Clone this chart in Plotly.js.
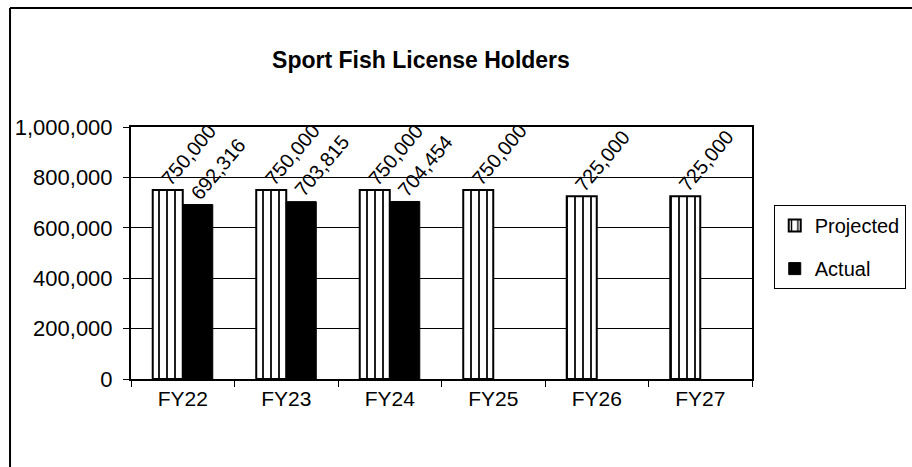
<!DOCTYPE html>
<html>
<head>
<meta charset="utf-8">
<script src="https://cdn.plot.ly/plotly-3.0.1.min.js"></script>
<style>
  html, body { margin: 0; padding: 0; background: #fff; }
  #chart { width: 912px; height: 467px; }
</style>
</head>
<body>
<div id="chart"></div>
<script>
// fiscal years and license holder counts
const years = ['FY22', 'FY23', 'FY24', 'FY25', 'FY26', 'FY27'];
const projected = [750000, 750000, 750000, 750000, 725000, 725000];
const actualYears = ['FY22', 'FY23', 'FY24'];
const actual = [692316, 703815, 704454];

const fmt = v => v.toLocaleString('en-US');
const font = 'Liberation Sans, Arial, sans-serif';

const traces = [
    {
        type: 'bar',
        name: 'Projected',
        legendgroup: 'p',
        x: years,
        y: projected,
        marker: {
            color: '#fff',
            line: { color: '#000', width: 2 },
            pattern: { shape: '|', size: 8, solidity: 0.22, fgcolor: '#000', bgcolor: '#fff' }
        },
        hoverinfo: 'x+y'
    },
    {
        type: 'bar',
        name: 'Actual',
        legendgroup: 'a',
        x: actualYears,
        y: actual,
        marker: { color: '#000', line: { color: '#000', width: 1 } },
        hoverinfo: 'x+y'
    }
];

// value labels, slanted, starting at the left edge of each bar
function labels(xs, ys, shift) {
    return xs.map((x, i) => ({
        x: x, y: ys[i], xref: 'x', yref: 'y',
        text: fmt(ys[i]),
        showarrow: false,
        textangle: -50,
        xanchor: 'left', yanchor: 'bottom',
        xshift: shift, yshift: -2,
        font: { family: font, size: 20, color: '#000' }
    }));
}

const layout = {
    width: 912,
    height: 467,
    margin: { l: 131, r: 160, t: 127, b: 88, autoexpand: false },
    paper_bgcolor: '#fff',
    plot_bgcolor: '#fff',
    font: { family: font, size: 21, color: '#000' },
    title: {
        text: 'Sport Fish License Holders',
        font: { family: font, size: 23, weight: 'bold', color: '#000' },
        xref: 'container', x: 0.4616, xanchor: 'center',
        yref: 'container', y: 0.871, yanchor: 'middle'
    },
    barmode: 'group',
    bargap: 0.42,
    bargroupgap: 0,
    xaxis: {
        type: 'category',
        showline: true, linecolor: '#000', linewidth: 2, mirror: true,
        ticks: 'outside', tickson: 'boundaries', ticklen: 6, tickcolor: '#000', tickwidth: 1,
        showgrid: false,
        tickfont: { family: font, size: 21, color: '#000' }
    },
    yaxis: {
        range: [0, 1000000],
        dtick: 200000,
        tickformat: ',d',
        showline: true, linecolor: '#000', linewidth: 2, mirror: true,
        ticks: 'outside', ticklen: 6, tickcolor: '#000', tickwidth: 1,
        ticklabelstandoff: 6,
        showgrid: true, gridcolor: '#000', gridwidth: 1,
        zeroline: false,
        tickfont: { family: font, size: 22, color: '#000' }
    },
    showlegend: true,
    legend: {
        x: 1.035, xanchor: 'left',
        y: 0.69, yanchor: 'top',
        bgcolor: '#fff',
        bordercolor: '#000', borderwidth: 1,
        font: { family: font, size: 20, color: '#000' },
        itemwidth: 30,
        tracegroupgap: 14,
        traceorder: 'grouped'
    },
    annotations: labels(years, projected, -29).concat(labels(actualYears, actual, 1)),
    shapes: [
        // outer chart frame (left and top edges visible)
        { type: 'line', xref: 'paper', yref: 'paper', x0: -0.1948, x1: -0.1948, y0: -1, y1: 1.472, line: { color: '#000', width: 2 } },
        { type: 'line', xref: 'paper', yref: 'paper', x0: -0.1948, x1: 2, y0: 1.472, y1: 1.472, line: { color: '#000', width: 2 } }
    ]
};

Plotly.newPlot('chart', traces, layout, { displayModeBar: false, staticPlot: true });
</script>
</body>
</html>
